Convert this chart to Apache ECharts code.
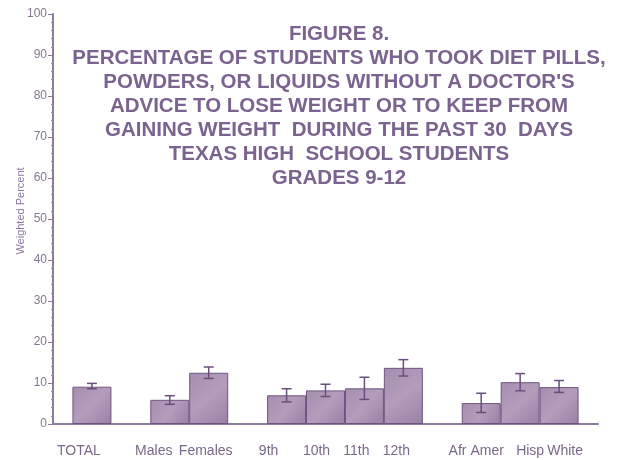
<!DOCTYPE html>
<html>
<head>
<meta charset="utf-8">
<script src="https://cdn.jsdelivr.net/npm/echarts@6/dist/echarts.min.js"></script>
<style>html,body{margin:0;padding:0;background:#fff}#c{width:617px;height:460px}</style>
</head>
<body>
<div id="c"></div>
<script>
// ---- data ----
var groups = [
  ['TOTAL'],
  ['Males', 'Females'],
  ['9th', '10th', '11th', '12th'],
  ['Afr Amer', 'Hisp', 'White']
];
var values  = [9.1, 5.9, 12.5, 7.0, 8.2, 8.7, 13.7, 5.1, 10.2, 9.0];
var errLow  = [8.6, 4.8, 11.1, 5.4, 6.7, 6.0, 11.7, 2.8, 8.1, 7.7];
var errHigh = [9.9, 6.9, 13.9, 8.6, 9.7, 11.4, 15.7, 7.5, 12.3, 10.6];
var yTicks = [0, 10, 20, 30, 40, 50, 60, 70, 80, 90, 100];
var titleLines = [
  'FIGURE 8.',
  'PERCENTAGE OF STUDENTS WHO TOOK DIET PILLS,',
  "POWDERS, OR LIQUIDS WITHOUT A DOCTOR'S",
  'ADVICE TO LOSE WEIGHT OR TO KEEP FROM',
  'GAINING WEIGHT  DURING THE PAST 30  DAYS',
  'TEXAS HIGH  SCHOOL STUDENTS',
  'GRADES 9-12'
];

// ---- layout (label nudges: typed labels sit slightly off the bars) ----
var labelNudge = {'TOTAL': -13, 'Males': -16, 'Females': -3, '9th': -18, '10th': -9,
  '11th': -8, '12th': -7, 'Afr Amer': -5, 'Hisp': 10, 'White': 6};

// build spaced category axis: blank slot before each group and at end
var axisCats = [], barData = [], errData = [];
var k = 0;
groups.forEach(function (g) {
  axisCats.push(''); barData.push(null);
  g.forEach(function (name) {
    var n = labelNudge[name] || 0;
    var pad = n < 0 ? [0, -2 * n, 0, 0] : [0, 0, 0, 2 * n];
    axisCats.push({ value: name, textStyle: { padding: pad } });
    barData.push(values[k]);
    errData.push([axisCats.length - 1, errLow[k], errHigh[k]]);
    k++;
  });
});
axisCats.push(''); barData.push(null);

var purple = '#7b6390';
var chart = echarts.init(document.getElementById('c'));
chart.setOption({
  backgroundColor: '#ffffff',
  animation: false,
  title: {
    text: titleLines.join('\n'),
    left: 334,
    top: 17,
    textAlign: 'center',
    textStyle: {
      fontFamily: 'Liberation Sans, Arial, sans-serif',
      fontSize: 20.5,
      fontWeight: 'bold',
      color: purple,
      lineHeight: 24
    }
  },
  grid: { left: 53, right: 19, top: 14, bottom: 36, containLabel: false, outerBoundsMode: 'none' },
  xAxis: {
    type: 'category',
    data: axisCats,
    boundaryGap: false,
    axisLine: { lineStyle: { color: '#8c7b9c', width: 2 } },
    axisTick: { show: false },
    axisLabel: {
      interval: 0,
      margin: 20,
      color: '#7a6889',
      fontSize: 14,
      fontFamily: 'Liberation Sans, Arial, sans-serif'
    },
    splitLine: { show: false }
  },
  yAxis: {
    type: 'value',
    min: yTicks[0],
    max: yTicks[yTicks.length - 1],
    interval: yTicks[1] - yTicks[0],
    name: 'Weighted Percent',
    nameLocation: 'middle',
    nameGap: 27,
    nameMoveOverlap: false,
    nameTextStyle: { color: '#8a78a0', fontSize: 11, padding: [0, 0, 0, 16], fontFamily: 'Liberation Sans, Arial, sans-serif' },
    axisLine: { show: true, lineStyle: { color: '#8c7b9c', width: 2 } },
    axisTick: { show: true, length: 5, lineStyle: { color: '#8c7b9c', width: 1 } },
    minorTick: { show: true, splitNumber: 5, length: 2, lineStyle: { color: '#9a8aa8' } },
    axisLabel: { color: '#85768f', fontSize: 12, margin: 6, fontFamily: 'Liberation Sans, Arial, sans-serif' },
    splitLine: { show: false }
  },
  series: [
    {
      type: 'bar',
      data: barData,
      barWidth: 39,
      itemStyle: {
        color: new echarts.graphic.LinearGradient(0, 0, 1, 1, [
          { offset: 0, color: '#a68db0' },
          { offset: 0.5, color: '#b39dbb' },
          { offset: 1, color: '#9880a4' }
        ]),
        borderColor: '#6e5580',
        borderWidth: 1
      }
    },
    {
      type: 'custom',
      data: errData,
      z: 10,
      renderItem: function (params, api) {
        var x = api.value(0);
        var lo = api.coord([x, api.value(1)]);
        var hi = api.coord([x, api.value(2)]);
        var hw = 5;
        var st = { stroke: '#6a4e7c', lineWidth: 1.5 };
        return {
          type: 'group',
          children: [
            { type: 'line', shape: { x1: lo[0], y1: lo[1], x2: hi[0], y2: hi[1] }, style: st },
            { type: 'line', shape: { x1: lo[0] - hw, y1: lo[1], x2: lo[0] + hw, y2: lo[1] }, style: st },
            { type: 'line', shape: { x1: hi[0] - hw, y1: hi[1], x2: hi[0] + hw, y2: hi[1] }, style: st }
          ]
        };
      }
    }
  ]
});
</script>
</body>
</html>
